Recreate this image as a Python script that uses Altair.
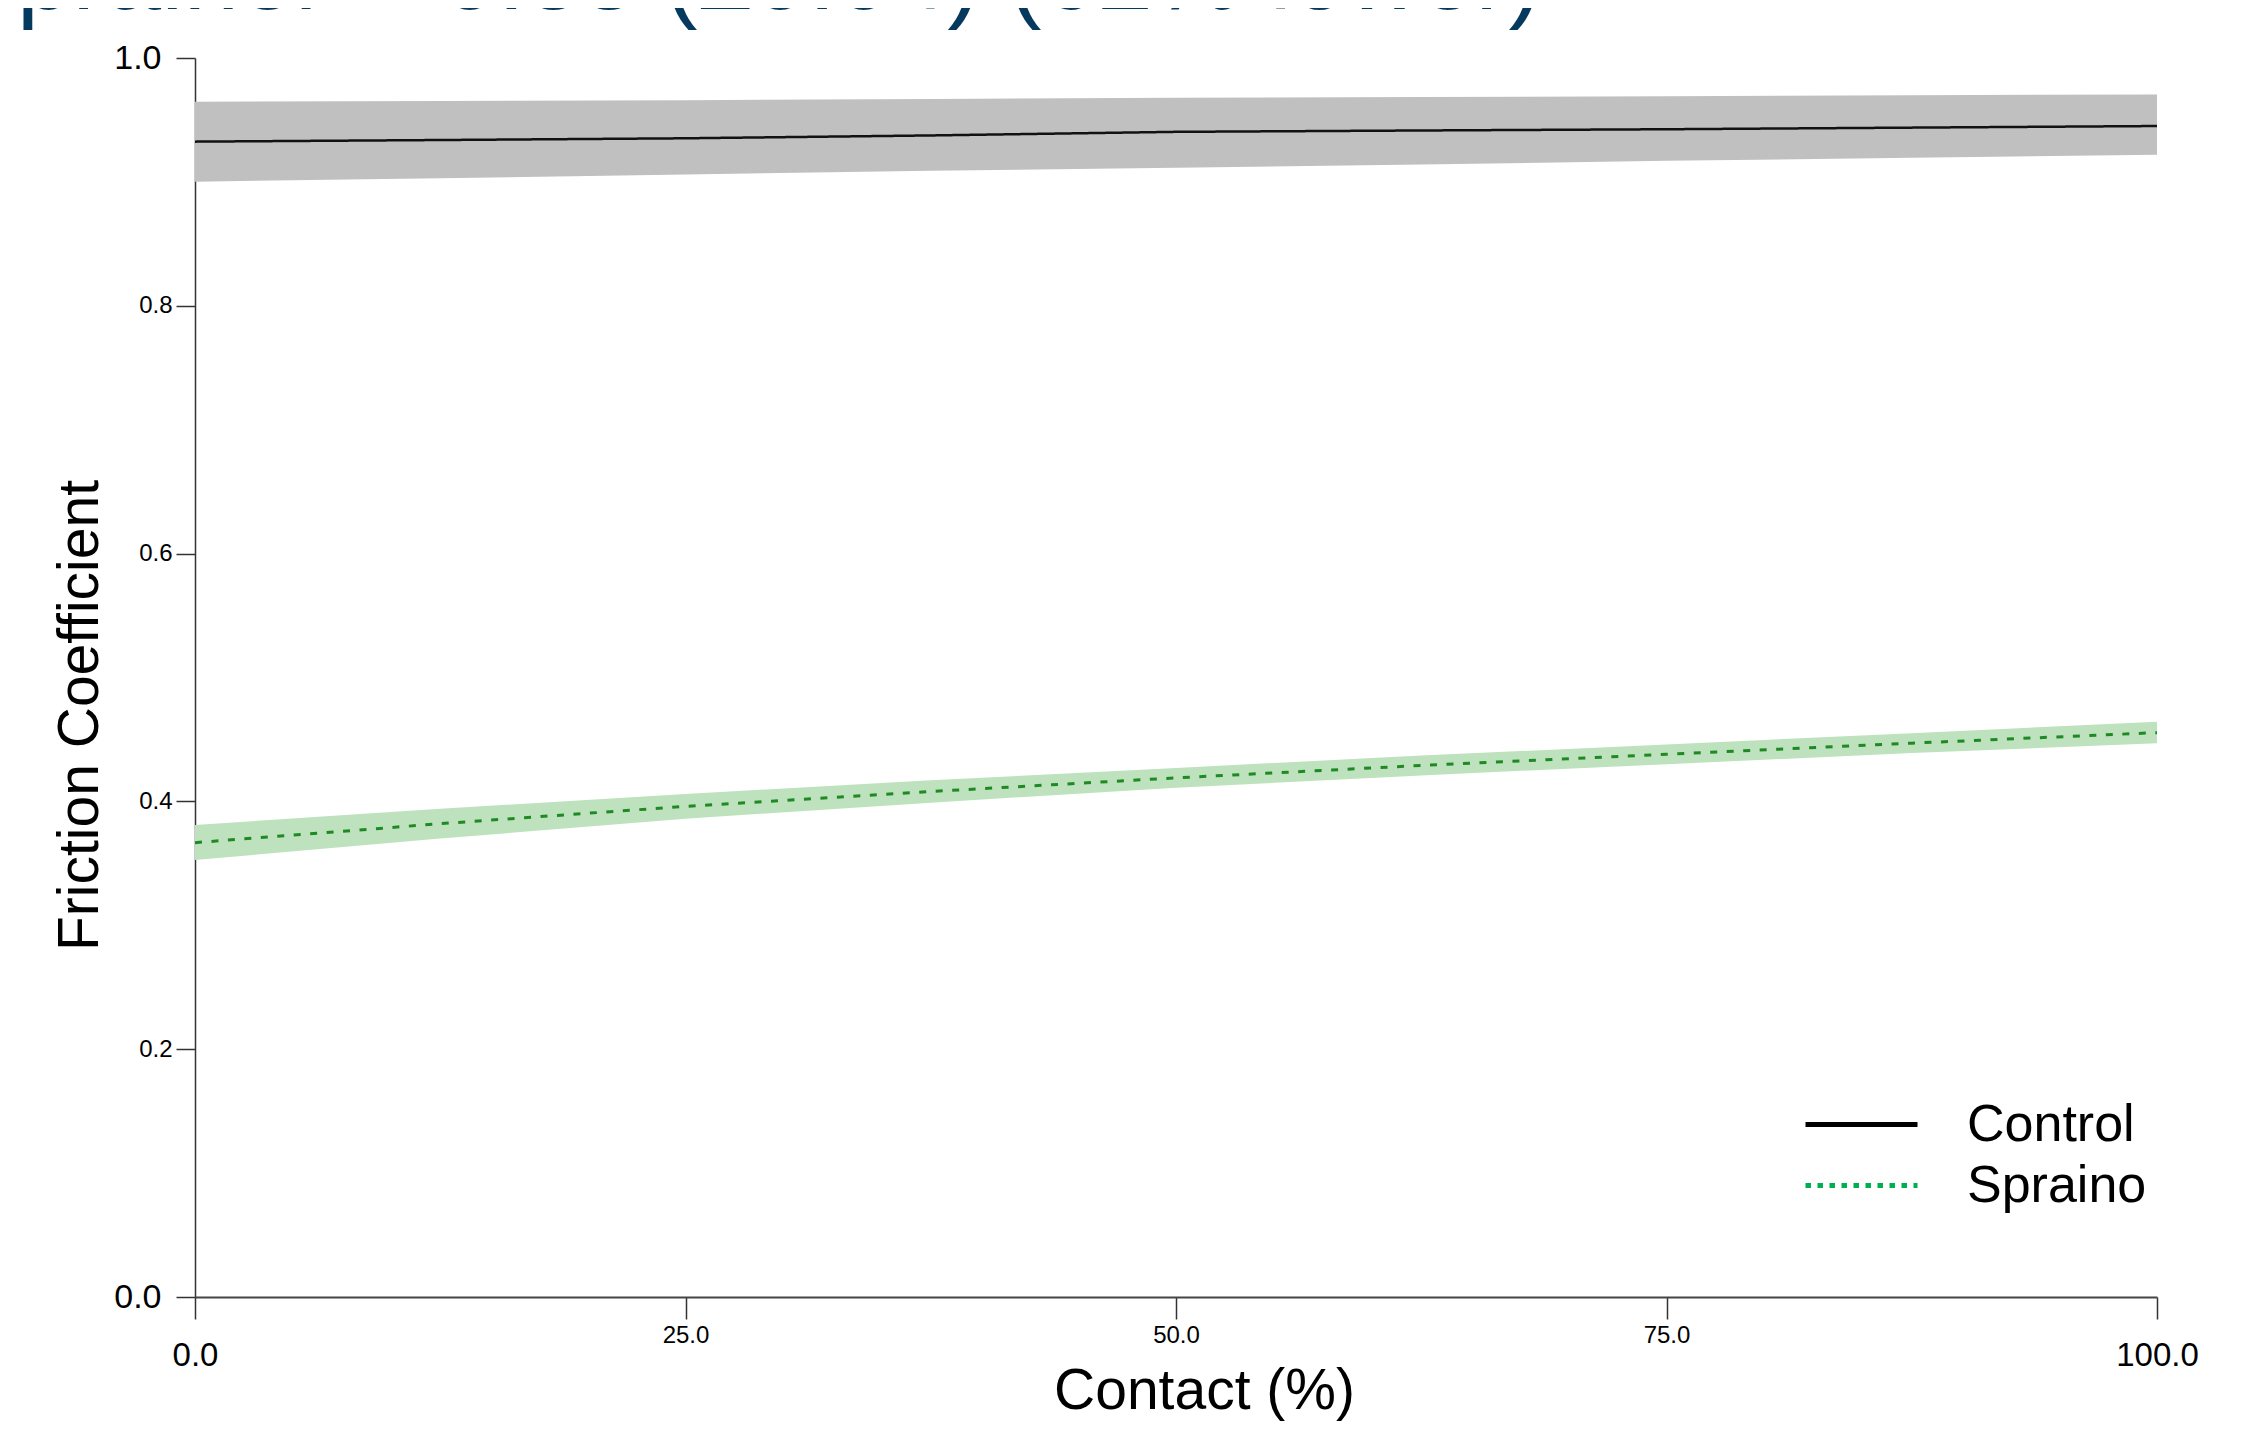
import altair as alt
import pandas as pd

# ---- data ----
series_names = ["Control", "Spraino"]
contact = [0, 12.5, 25, 37.5, 50, 62.5, 75, 87.5, 100]

control_mid = [0.9325, 0.9338, 0.9352, 0.9375, 0.9404, 0.9415, 0.9425, 0.9438, 0.9451]
control_lo = [0.9002, 0.9030, 0.9060, 0.9090, 0.9115, 0.9140, 0.9170, 0.9195, 0.9219]
control_hi = [0.9647, 0.9652, 0.9660, 0.9670, 0.9680, 0.9685, 0.9692, 0.9700, 0.9705]

spraino_mid = [0.3667, 0.3820, 0.3960, 0.4080, 0.4190, 0.4290, 0.4380, 0.4470, 0.4555]
spraino_lo = [0.3527, 0.3700, 0.3860, 0.3990, 0.4110, 0.4210, 0.4300, 0.4390, 0.4469]
spraino_hi = [0.3810, 0.3940, 0.4060, 0.4170, 0.4270, 0.4370, 0.4460, 0.4550, 0.4643]

y_ticks = [0.0, 0.2, 0.4, 0.6, 0.8, 1.0]
x_ticks = [0, 25, 50, 75, 100]

title_text = "Sprainer = 0.38 (±0.04) (62% lower)"

rows = []
for name, mids, los, his in [
    ("Control", control_mid, control_lo, control_hi),
    ("Spraino", spraino_mid, spraino_lo, spraino_hi),
]:
    for x, m, lo, hi in zip(contact, mids, los, his):
        rows.append({"contact": x, "series": name, "mid": m, "lo": lo, "hi": hi})
df = pd.DataFrame(rows)

FONT = "Liberation Sans"

x_axis = alt.Axis(
    values=x_ticks, format=".1f", title="Contact (%)", grid=False,
    labelFont=FONT, labelColor="black",
    labelFontSize={"condition": {"test": "datum.value == 0 || datum.value == 100", "value": 33}, "value": 24},
    labelPadding={"condition": {"test": "datum.value == 0 || datum.value == 100", "value": 20}, "value": 4},
    labelFlush=False, labelOverlap=False, labelBound=False,
    tickSize=22, tickWidth=1.5, tickColor="#333333",
    domainColor="#444444", domainWidth=2,
    titleFont=FONT, titleFontSize=57, titleFontWeight="normal", titleColor="black",
    titleX=1009, titleY=111, titleAlign="center", titleBaseline="alphabetic",
)
y_axis = alt.Axis(
    values=y_ticks, format=".1f", title="Friction Coefficient", grid=False,
    labelFont=FONT, labelColor="black",
    labelFontSize={"condition": {"test": "datum.value == 0 || datum.value == 1", "value": 34}, "value": 24},
    labelPadding={"condition": {"test": "datum.value == 0 || datum.value == 1", "value": 15}, "value": 4},
    labelOverlap=False, labelBound=False, labelFlush=False,
    tickSize=19, tickWidth=1.5, tickColor="#333333",
    domainColor="#333333", domainWidth=1.5,
    titleFont=FONT, titleFontSize=57, titleFontWeight="normal", titleColor="black",
    titleAngle=-90, titleX=-98, titleY=657, titleAlign="center", titleBaseline="alphabetic",
)

x_enc = alt.X("contact:Q", scale=alt.Scale(domain=[0, 100], nice=False, zero=False), axis=x_axis)
y_scale = alt.Scale(domain=[0, 1], nice=False, zero=False)

base = alt.Chart(df)

bands = base.mark_area(opacity=1).encode(
    x=x_enc,
    y=alt.Y("lo:Q", scale=y_scale, axis=y_axis),
    y2="hi:Q",
    color=alt.Color("series:N", scale=alt.Scale(domain=series_names, range=["#c0c0c0", "#bde2bd"]), legend=None),
)

lines = base.mark_line().encode(
    x=x_enc,
    y=alt.Y("mid:Q", scale=y_scale, axis=y_axis),
    color=alt.Color("series:N", scale=alt.Scale(domain=series_names, range=["#111111", "#1f8a24"]), legend=None),
    strokeDash=alt.StrokeDash("series:N", scale=alt.Scale(domain=series_names, range=[[1, 0], [7, 9.5]]), legend=None),
    size=alt.Size("series:N", scale=alt.Scale(domain=series_names, range=[2.5, 3]), legend=None),
)

legend = alt.Legend(
    title=None, orient="none", legendX=1636, legendY=1036,
    symbolType="M-2,0H2", symbolSize=3136, symbolStrokeWidth=5, symbolOpacity=1,
    labelFont=FONT, labelFontSize=52, labelColor="black", labelOffset=75, labelLimit=0,
    rowPadding=4, padding=0,
)

legend_layer = base.mark_line().encode(
    x=x_enc,
    y=alt.Y("mid:Q", scale=y_scale, axis=y_axis),
    color=alt.Color("series:N", scale=alt.Scale(domain=series_names, range=["#000000", "#00b050"]), legend=legend),
    strokeDash=alt.StrokeDash("series:N", scale=alt.Scale(domain=series_names, range=[[1, 0], [5.5, 6.5]]), legend=legend),
).transform_filter("datum.contact < -1")

chart = alt.layer(bands, lines, legend_layer).resolve_scale(
    color="independent", strokeDash="independent", size="independent"
).properties(
    width=1962,
    height=1239,
    padding={"left": 187, "top": 50, "right": 60, "bottom": 124},
    autosize=alt.AutoSizeParams(type="none"),
    title=alt.TitleParams(
        text=title_text, font=FONT, fontSize=100, fontWeight="normal", color="#053a5e",
        anchor="start", frame="group", orient="top", baseline="top", offset=11, dx=-245,
    ),
).configure(background="white", view=alt.ViewConfig(stroke=None))

chart.save("out.html", embed_options={"renderer": "svg", "actions": False})
